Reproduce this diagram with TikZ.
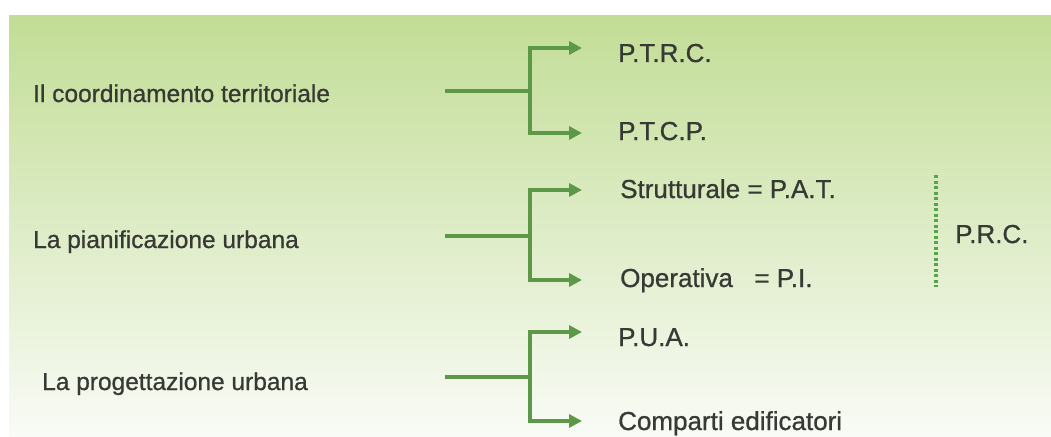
\documentclass[tikz,border=0pt]{standalone}
\usepackage{fontspec}
\setmainfont{Liberation Sans}[FakeBold=0.8]
\usetikzlibrary{arrows.meta}

\definecolor{bggreen}{RGB}{194,221,150}
\definecolor{bgmid}{RGB}{232,242,218}
\definecolor{bgpale}{RGB}{249,251,246}
\definecolor{branchgreen}{RGB}{92,152,72}
\definecolor{dotgreen}{RGB}{85,165,75}
\definecolor{textgray}{RGB}{55,58,52}

\begin{document}
\begin{tikzpicture}[
    x=1pt, y=-1pt,
    stem/.style={line width=3.5pt, branchgreen},
    branch/.style={stem, -{Triangle[length=13pt, width=13pt]}},
    head/.style={anchor=base west, inner sep=0pt, textgray, font=\fontsize{24.5}{28}\selectfont},
    item/.style={anchor=base west, inner sep=0pt, textgray, font=\fontsize{26}{30}\selectfont},
    prcline/.style={dotgreen, line width=3.5pt, dash pattern=on 3pt off 2.5pt},
]

% === Background ===
\useasboundingbox (0,0) rectangle (1051,436);
\fill[white] (0,0) rectangle (1051,436);
\shade[top color=bggreen, middle color=bgmid, bottom color=bgpale] (9,16) rectangle (1051,436);

% === Il coordinamento territoriale ===
\node[head] (coord) at (33,102) {Il coordinamento territoriale};
\coordinate (coordstem) at (445,91);
\coordinate (coordfork) at (530,91);
\coordinate (ptrctip) at (582,48);
\coordinate (ptcptip) at (582,133);
\node[item] (ptrc) at (618,62) {P.T.R.C.};
\node[item] (ptcp) at (618,140) {P.T.C.P.};
\draw[stem] (coordstem) -- (coordfork);
\draw[branch] (coordfork) |- (ptrctip);
\draw[branch] (coordfork) |- (ptcptip);

% === La pianificazione urbana ===
\node[head] (pian) at (33,248) {La pianificazione urbana};
\coordinate (pianstem) at (445,236);
\coordinate (pianfork) at (530,236);
\coordinate (pattip) at (582,190);
\coordinate (pitip) at (582,280);
\node[item] (pat) at (620,198) {Strutturale = P.A.T.};
\node[item] (pi) at (620,287) {Operativa\hspace{0.55em} = P.I.};
\draw[stem] (pianstem) -- (pianfork);
\draw[branch] (pianfork) |- (pattip);
\draw[branch] (pianfork) |- (pitip);

% P.R.C. bracket
\coordinate (prctop) at (936,175);
\coordinate (prcbot) at (936,287);
\draw[prcline] (prctop) -- (prcbot);
\node[item] (prc) at (955,243) {P.R.C.};

% === La progettazione urbana ===
\node[head] (prog) at (42,390) {La progettazione urbana};
\coordinate (progstem) at (445,377);
\coordinate (progfork) at (530,377);
\coordinate (puatip) at (582,332);
\coordinate (comptip) at (582,421);
\node[item] (pua) at (618,346) {P.U.A.};
\node[item] (comp) at (618,430) {Comparti edificatori};
\draw[stem] (progstem) -- (progfork);
\draw[branch] (progfork) |- (puatip);
\draw[branch] (progfork) |- (comptip);

\end{tikzpicture}
\end{document}
